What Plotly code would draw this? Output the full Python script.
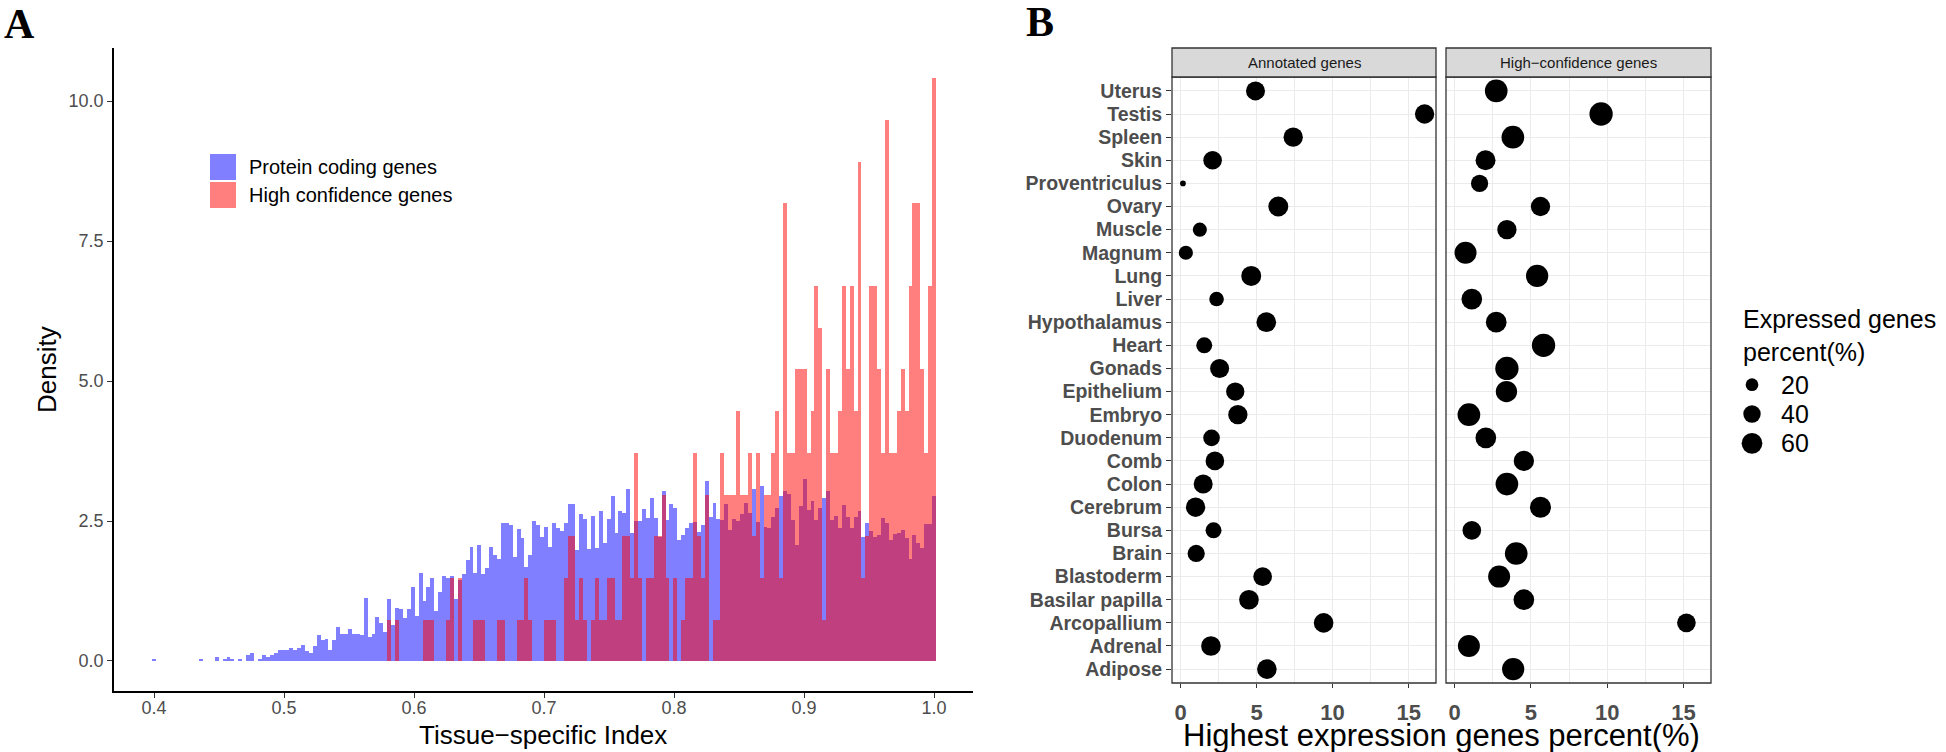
import numpy as np
import plotly.graph_objects as go

W, H = 1946, 752
def px(x): return x / W
def py(y): return 1 - y / H

# ---------------- Panel A data (histogram densities, 200 bins from 0.4 to 1.0) ----------------
n_bins = 200
bin_lo, bin_hi = 0.4, 1.0
protein_density = [
    0.02, 0, 0, 0, 0, 0, 0, 0, 0, 0, 0, 0, 0.02, 0, 0, 0, 0.07, 0, 0.02, 0.07,
    0.02, 0, 0.04, 0, 0.10, 0.14, 0, 0.04, 0.10, 0.08, 0.10, 0.14, 0.20, 0.20, 0.20, 0.23, 0.20, 0.24, 0.29, 0.17,
    0.14, 0.26, 0.46, 0.37, 0.40, 0.20, 0.37, 0.61, 0.49, 0.49, 0.58, 0.49, 0.49, 0.46, 1.13, 0.43, 0.49, 0.79, 0.67, 0.52,
    1.10, 0.64, 0.95, 0.92, 0.76, 0.92, 1.32, 0.80, 1.58, 1.08, 1.32, 1.49, 0.90, 1.23, 1.52, 1.49, 1.51, 1.10, 1.45, 1.55,
    1.80, 2.04, 1.58, 2.07, 1.55, 1.67, 2.04, 1.89, 1.83, 2.46, 2.46, 2.43, 1.86, 2.35, 2.19, 1.68, 1.89, 2.50, 2.43, 2.22,
    2.40, 2.04, 2.46, 2.37, 2.33, 2.46, 2.80, 2.80, 1.98, 2.62, 2.54, 2.00, 2.59, 2.01, 2.68, 2.10, 2.53, 2.95, 2.28, 2.68,
    2.65, 3.07, 2.28, 2.50, 2.50, 2.71, 2.55, 2.92, 2.55, 2.22, 3.04, 2.51, 2.80, 2.74, 2.16, 2.25, 2.37, 2.46, 2.49, 2.31,
    2.43, 3.22, 2.58, 2.82, 2.53, 2.52, 2.80, 2.34, 2.53, 2.50, 2.62, 2.83, 2.65, 3.07, 2.49, 3.13, 2.40, 2.37, 2.58, 2.74,
    2.95, 3.04, 2.98, 2.52, 2.07, 2.77, 3.25, 2.70, 2.86, 2.52, 2.74, 2.92, 3.04, 2.52, 2.59, 2.38, 2.79, 2.58, 2.38, 2.58,
    2.68, 2.22, 2.47, 2.32, 2.22, 2.25, 2.55, 2.47, 2.17, 2.26, 2.29, 2.34, 2.20, 1.83, 2.25, 2.10, 2.01, 2.44, 2.44, 2.95,
]
highconf_density = [
    0, 0, 0, 0, 0, 0, 0, 0, 0, 0, 0, 0, 0, 0, 0, 0, 0, 0, 0, 0,
    0, 0, 0, 0, 0, 0, 0, 0, 0, 0, 0, 0, 0, 0, 0, 0, 0, 0, 0, 0,
    0, 0, 0, 0, 0, 0, 0, 0, 0, 0, 0, 0, 0, 0, 0, 0, 0, 0, 0, 0,
    0.74, 0, 0.74, 0, 0, 0, 0, 0, 0, 0.74, 0.74, 0.74, 0, 0, 0, 0.74, 1.49, 0, 1.49, 0,
    0, 0, 0.74, 0.74, 0.74, 0, 0, 0, 0.74, 0.74, 0, 0, 0, 0.74, 0.74, 1.49, 0.74, 0, 0, 0,
    0.74, 0.74, 0.74, 0, 0, 1.49, 2.23, 2.23, 0.74, 1.49, 0.74, 0, 0.74, 1.49, 0.74, 0.74, 1.49, 1.49, 0.74, 0.74,
    2.23, 2.23, 1.49, 3.72, 1.49, 0, 1.49, 1.49, 2.23, 2.23, 2.97, 1.49, 0, 1.49, 0, 0.74, 1.49, 1.49, 3.72, 2.23,
    1.49, 2.97, 0, 0.74, 0.74, 3.72, 2.97, 2.97, 2.97, 4.46, 2.97, 2.97, 3.72, 2.23, 3.72, 1.49, 2.97, 2.97, 3.72, 4.46,
    1.49, 8.18, 3.72, 3.72, 5.21, 5.21, 5.21, 3.72, 4.46, 6.69, 5.95, 0.74, 5.21, 3.72, 3.72, 4.46, 6.69, 5.21, 6.69, 4.46,
    8.92, 1.49, 2.23, 6.69, 6.69, 5.21, 3.72, 9.67, 3.72, 3.72, 4.46, 5.21, 4.46, 6.69, 8.18, 8.18, 5.21, 3.72, 6.69, 10.41,
]
bin_centers = np.linspace(bin_lo, bin_hi, n_bins)
bin_width = (bin_hi - bin_lo) / (n_bins - 1)

# ---------------- Panel B data ----------------
tissues = ["Uterus", "Testis", "Spleen", "Skin", "Proventriculus", "Ovary", "Muscle", "Magnum",
           "Lung", "Liver", "Hypothalamus", "Heart", "Gonads", "Epithelium", "Embryo", "Duodenum",
           "Comb", "Colon", "Cerebrum", "Bursa", "Brain", "Blastoderm", "Basilar papilla",
           "Arcopallium", "Adrenal", "Adipose"]
annot_highest = [4.93, 16.05, 7.41, 2.11, 0.16, 6.43, 1.27, 0.35, 4.65, 2.37, 5.64, 1.56, 2.57,
                 3.60, 3.77, 2.04, 2.26, 1.49, 0.99, 2.17, 1.03, 5.40, 4.50, 9.41, 2.00, 5.68]
annot_expressed = [49, 51, 51, 47, 9, 55, 25, 25, 55, 27, 53, 33, 49,
                   45, 51, 36, 47, 49, 51, 33, 39, 47, 53, 53, 53, 53]
hc_highest = [2.73, 9.60, 3.82, 2.03, 1.64, 5.63, 3.43, 0.72, 5.41, 1.13, 2.73, 5.83, 3.43,
              3.40, 0.94, 2.05, 4.54, 3.43, 5.63, 1.13, 4.04, 2.92, 4.54, 15.19, 0.94, 3.84]
hc_expressed = [74, 79, 74, 55, 39, 51, 51, 69, 71, 60, 60, 79, 79,
                64, 74, 60, 57, 74, 62, 47, 74, 69, 60, 47, 69, 71]
legend_values = [20, 40, 60]
facet_titles = ["Annotated genes", "High\u2212confidence genes"]

# size scale (area-like, as ggplot scale_size)
size_lim = (9, 79)
size_range_px = (5.7, 23.3)
def size_px(v):
    v = np.asarray(v, dtype=float)
    t = np.clip((v - size_lim[0]) / (size_lim[1] - size_lim[0]), 0, 1)
    return size_range_px[0] + (size_range_px[1] - size_range_px[0]) * np.sqrt(t)

FONT = "Liberation Sans, Arial, Helvetica, sans-serif"
fig = go.Figure()

# Panel A histograms
fig.add_trace(go.Bar(x=bin_centers, y=protein_density, width=bin_width,
                     marker=dict(color="#0000FF", opacity=0.5, line=dict(width=0)),
                     xaxis="x", yaxis="y", showlegend=False))
fig.add_trace(go.Bar(x=bin_centers, y=highconf_density, width=bin_width,
                     marker=dict(color="#FF0000", opacity=0.5, line=dict(width=0)),
                     xaxis="x", yaxis="y", showlegend=False))

# Panel B dots
fig.add_trace(go.Scatter(x=annot_highest, y=tissues, mode="markers",
                         marker=dict(color="black", opacity=1, size=size_px(annot_expressed), line=dict(width=0)),
                         xaxis="x2", yaxis="y2", showlegend=False))
fig.add_trace(go.Scatter(x=hc_highest, y=tissues, mode="markers",
                         marker=dict(color="black", opacity=1, size=size_px(hc_expressed), line=dict(width=0)),
                         xaxis="x3", yaxis="y3", showlegend=False))
# size legend
fig.add_trace(go.Scatter(x=[0, 0, 0], y=[2, 1, 0], mode="markers",
                         marker=dict(color="black", opacity=1, size=size_px(legend_values), line=dict(width=0)),
                         xaxis="x4", yaxis="y4", showlegend=False, hoverinfo="skip"))

tick_gray = "#4D4D4D"
grid_c = "#EBEBEB"
cat_order = tissues[::-1]

xb_common = dict(range=[-0.56, 16.8], tickvals=[0, 5, 10, 15], ticktext=["0", "5", "10", "15"],
                 ticks="outside", ticklen=4, tickwidth=1.2, tickcolor="#333333", ticklabelstandoff=6,
                 tickfont=dict(family=FONT, size=22, color=tick_gray, weight="bold"),
                 showgrid=True, gridcolor=grid_c, gridwidth=1.3, zeroline=False, showline=False,
                 minor=dict(tickvals=[2.5, 7.5, 12.5], showgrid=True, gridcolor=grid_c, gridwidth=0.7, ticks=""))
yb_common = dict(type="category", categoryorder="array", categoryarray=cat_order,
                 tickmode="array", tickvals=cat_order, ticktext=cat_order,
                 range=[-0.6, 25.6], showgrid=True, gridcolor=grid_c, gridwidth=1.3,
                 zeroline=False, showline=False, domain=[py(683), py(77)])

fig.update_layout(
    width=W, height=H, margin=dict(l=0, r=0, t=0, b=0),
    paper_bgcolor="white", plot_bgcolor="white", barmode="overlay", bargap=0,
    font=dict(family=FONT, color="black"),
    xaxis=dict(domain=[px(114), px(973)], range=[0.3692, 1.030], anchor="y",
               tickvals=[0.4, 0.5, 0.6, 0.7, 0.8, 0.9, 1.0],
               ticktext=["0.4", "0.5", "0.6", "0.7", "0.8", "0.9", "1.0"],
               ticks="outside", ticklen=5, tickwidth=1.2, tickcolor="#333333", ticklabelstandoff=-5,
               tickfont=dict(family=FONT, size=18, color=tick_gray),
               showline=True, linecolor="black", linewidth=1.5, showgrid=False, zeroline=False),
    yaxis=dict(domain=[py(691), py(48)], range=[-0.536, 10.95], anchor="x",
               tickvals=[0, 2.5, 5, 7.5, 10], ticktext=["0.0", "2.5", "5.0", "7.5", "10.0"],
               ticks="outside", ticklen=5, tickwidth=1.2, tickcolor="#333333",
               tickfont=dict(family=FONT, size=18, color=tick_gray),
               showline=True, linecolor="black", linewidth=1.5, showgrid=False, zeroline=False),
    xaxis2=dict(domain=[px(1172), px(1436)], anchor="y2", **xb_common),
    xaxis3=dict(domain=[px(1446), px(1711)], anchor="y3", **xb_common),
    yaxis2=dict(anchor="x2", ticks="outside", ticklen=5, tickwidth=1.2, tickcolor="#333333",
                tickfont=dict(family=FONT, size=19.5, color=tick_gray, weight="bold"), **yb_common),
    yaxis3=dict(anchor="x3", ticks="", showticklabels=False, **yb_common),
    xaxis4=dict(domain=[px(1740), px(1764)], range=[-1, 1], visible=False, anchor="y4"),
    yaxis4=dict(domain=[py(458), py(370)], range=[-0.5, 2.5], visible=False, anchor="x4"),
)

shapes = []
# Panel A legend keys
shapes.append(dict(type="rect", xref="paper", yref="paper", x0=px(210), x1=px(236), y0=py(180), y1=py(154),
                   fillcolor="rgba(0,0,255,0.5)", line=dict(width=0)))
shapes.append(dict(type="rect", xref="paper", yref="paper", x0=px(210), x1=px(236), y0=py(208), y1=py(182),
                   fillcolor="rgba(255,0,0,0.5)", line=dict(width=0)))
# Panel B borders and strips
for xa, ya in [("x2", "y2"), ("x3", "y3")]:
    shapes.append(dict(type="rect", xref=f"{xa} domain", yref=f"{ya} domain", x0=0, x1=1, y0=0, y1=1,
                       line=dict(color="#333333", width=1.3), fillcolor="rgba(0,0,0,0)", layer="above"))
    shapes.append(dict(type="rect", xref=f"{xa} domain", yref="paper", x0=0, x1=1, y0=py(77), y1=py(48),
                       line=dict(color="#333333", width=1.3), fillcolor="#D9D9D9"))
fig.update_layout(shapes=shapes)

ann = []
ann.append(dict(text="<b>A</b>", x=px(2), y=py(24), xref="paper", yref="paper", xanchor="left", yanchor="middle",
                showarrow=False, font=dict(family="Liberation Serif, Times New Roman, serif", size=42, color="black")))
ann.append(dict(text="<b>B</b>", x=px(1024), y=py(22), xref="paper", yref="paper", xanchor="left", yanchor="middle",
                showarrow=False, font=dict(family="Liberation Serif, Times New Roman, serif", size=42, color="black")))
ann.append(dict(text="Tissue\u2212specific Index", x=px(543), y=py(735), xref="paper", yref="paper",
                xanchor="center", yanchor="middle", showarrow=False, font=dict(size=26, color="black")))
ann.append(dict(text="Density", x=px(47), y=py(370), xref="paper", yref="paper", textangle=-90,
                xanchor="center", yanchor="middle", showarrow=False, font=dict(size=26, color="black")))
ann.append(dict(text="Protein coding genes", x=px(247), y=py(167), xref="paper", yref="paper",
                xanchor="left", yanchor="middle", showarrow=False, font=dict(size=20, color="black")))
ann.append(dict(text="High confidence genes", x=px(247), y=py(195), xref="paper", yref="paper",
                xanchor="left", yanchor="middle", showarrow=False, font=dict(size=20, color="black")))
for xa, t in zip(["x2", "x3"], facet_titles):
    ann.append(dict(text=t, x=0.5, y=py(62.5), xref=f"{xa} domain", yref="paper", xanchor="center",
                    yanchor="middle", showarrow=False, font=dict(size=15, color="#1A1A1A")))
ann.append(dict(text="Highest expression genes percent(%)", x=px(1441), y=py(735), xref="paper", yref="paper",
                xanchor="center", yanchor="middle", showarrow=False, font=dict(size=31, color="black")))
ann.append(dict(text="Expressed genes<br>percent(%)", x=px(1741), y=py(303), xref="paper", yref="paper",
                xanchor="left", yanchor="top", align="left", showarrow=False, font=dict(size=25, color="black")))
for v, yy in zip(legend_values, [385, 414, 443]):
    ann.append(dict(text=str(v), x=px(1779), y=py(yy), xref="paper", yref="paper", xanchor="left",
                    yanchor="middle", showarrow=False, font=dict(size=25, color="black")))
fig.update_layout(annotations=ann)

fig.write_html("out.html", config={"displayModeBar": False},
               post_script="document.body.style.margin='0';document.body.style.overflow='hidden';")
